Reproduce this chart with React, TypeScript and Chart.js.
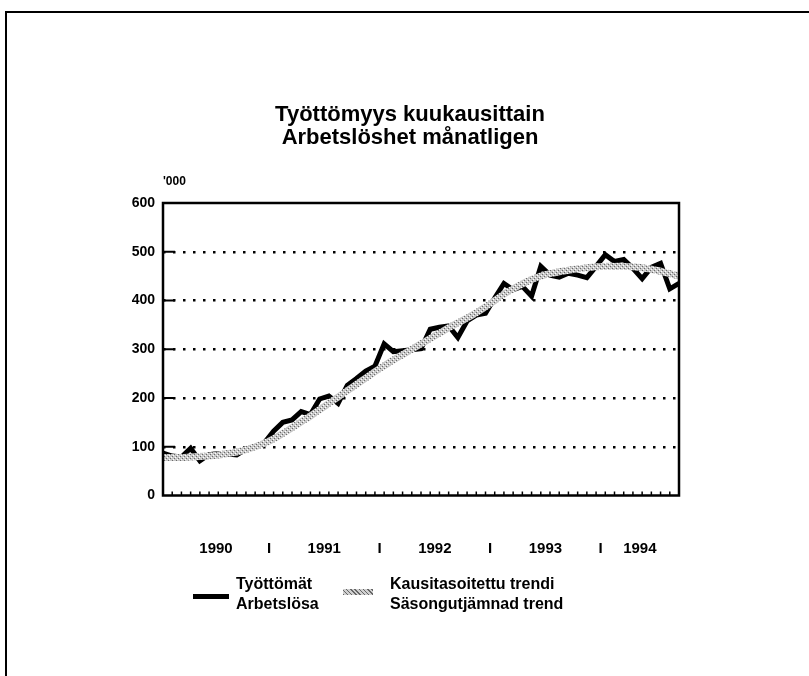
import React, { useEffect, useRef } from "react";
import { Chart, registerables } from "chart.js";

Chart.register(...registerables);

// Monthly data Jan 1990 – Sep 1994, thousands of persons
const years = ["1990", "1991", "1992", "1993", "1994"];
const separatorLabel = "I";
const yTicks = [0, 100, 200, 300, 400, 500, 600];

const unemployed = [
  87, 81, 79, 97, 71, 84, 86, 85, 83, 95, 100, 108,
  132, 150, 155, 172, 166, 198, 204, 189, 226, 240, 255, 265,
  311, 295, 297, 299, 301, 341, 345, 348, 324, 358, 370, 374,
  405, 435, 422, 429, 409, 470, 452, 448, 456, 452, 447, 470,
  494, 480, 484, 466, 445, 468, 476, 424, 435,
];

const trend = [
  78, 78, 78, 79, 80, 81, 83, 86, 89, 94, 100, 107,
  116, 127, 139, 151, 163, 176, 189, 202, 215, 228, 241, 254,
  266, 278, 289, 300, 311, 322, 333, 344, 354, 364, 375, 387,
  400, 413, 424, 434, 443, 450, 455, 459, 462, 465, 467, 469,
  470, 470, 470, 469, 467, 464, 460, 455, 450,
];

const seriesLabels = [
  ["Työttömät", "Arbetslösa"],
  ["Kausitasoitettu trendi", "Säsongutjämnad trend"],
];
const titleLines = ["Työttömyys kuukausittain", "Arbetslöshet månatligen"];
const unitLabel = "'000";

const FONT = '"Liberation Sans", Arial, Helvetica, sans-serif';

function makePattern(): CanvasPattern | string {
  const c = document.createElement("canvas");
  c.width = 4;
  c.height = 4;
  const g = c.getContext("2d");
  if (!g) return "#aaa";
  g.fillStyle = "#c8c8c8";
  g.fillRect(0, 0, 4, 4);
  g.fillStyle = "#6a6a6a";
  g.fillRect(0, 0, 1, 1);
  g.fillRect(2, 2, 1, 1);
  g.fillStyle = "#ffffff";
  g.fillRect(1, 3, 1, 1);
  g.fillRect(3, 1, 1, 1);
  const p = g.createPattern(c, "repeat");
  return p || "#aaa";
}

const framePlugin = {
  id: "framePlugin",
  afterDatasetsDraw(chart: any) {
    const { ctx, chartArea } = chart;
    const x = chart.scales.x;
    const y = chart.scales.y;
    ctx.save();
    ctx.strokeStyle = "#000";
    ctx.setLineDash([]);
    // month tick marks pointing inward
    ctx.lineWidth = 1.5;
    for (let i = 0; i < unemployed.length; i++) {
      const px = x.getPixelForValue(i);
      ctx.beginPath();
      ctx.moveTo(px, chartArea.bottom);
      ctx.lineTo(px, chartArea.bottom - 4);
      ctx.stroke();
    }
    // y inner ticks
    ctx.lineWidth = 2;
    yTicks.forEach((v) => {
      if (v === 0 || v === 600) return;
      const py = y.getPixelForValue(v);
      ctx.beginPath();
      ctx.moveTo(chartArea.left, py);
      ctx.lineTo(chartArea.left + 12, py);
      ctx.stroke();
    });
    // frame
    ctx.lineWidth = 2.5;
    ctx.strokeRect(
      chartArea.left,
      chartArea.top,
      chartArea.right - chartArea.left,
      chartArea.bottom - chartArea.top
    );
    ctx.restore();
  },
};

export default function App() {
  const ref = useRef<HTMLCanvasElement | null>(null);

  useEffect(() => {
    if (!ref.current) return;
    const pattern = makePattern();
    const xTickValues: number[] = [];
    const xTickText: string[] = [];
    const n = unemployed.length;
    years.forEach((yr, k) => {
      const start = k === 0 ? 0 : k * 12 - 0.5;
      const end = Math.min((k + 1) * 12 - 0.5, n - 1);
      xTickValues.push((start + end) / 2);
      xTickText.push(yr);
      if (k < years.length - 1) {
        xTickValues.push((k + 1) * 12 - 0.5);
        xTickText.push(separatorLabel);
      }
    });

    const chart = new Chart(ref.current, {
      type: "line",
      data: {
        datasets: [
          {
            label: seriesLabels[0].join(" "),
            data: unemployed.map((v, i) => ({ x: i, y: v })),
            borderColor: "#000",
            borderWidth: 5,
            borderJoinStyle: "miter",
            pointRadius: 0,
            tension: 0,
            order: 2,
          },
          {
            label: seriesLabels[1].join(" "),
            data: trend.map((v, i) => ({ x: i, y: v })),
            borderColor: pattern as any,
            borderWidth: 7,
            pointRadius: 0,
            tension: 0.3,
            order: 1,
          },
        ],
      },
      options: {
        responsive: false,
        animation: false,
        layout: { padding: { left: 0, right: 130, top: 203, bottom: 90 } },
        plugins: {
          legend: { display: false },
          tooltip: { enabled: false },
          title: { display: false },
        },
        scales: {
          x: {
            type: "linear",
            min: 0,
            max: n - 1,
            grid: { display: false },
            border: { display: false },
            afterFit(scale: any) {
              scale.height = 90.5;
            },
            afterBuildTicks(scale: any) {
              scale.ticks = xTickValues.map((v) => ({ value: v }));
            },
            ticks: {
              autoSkip: false,
              maxRotation: 0,
              padding: 36,
              color: "#000",
              font: { family: FONT, size: 15, weight: "bold" },
              callback: (_v: any, idx: number) => xTickText[idx],
            },
          },
          y: {
            min: 0,
            max: 600,
            afterFit(scale: any) {
              scale.width = 163;
            },
            afterBuildTicks(scale: any) {
              scale.ticks = yTicks.map((v) => ({ value: v }));
            },
            border: { display: false, dash: [2.5, 7.5] },
            grid: {
              drawTicks: false,
              lineWidth: 2.5,
              color: (c: any) =>
                c.tick && (c.tick.value === 0 || c.tick.value === 600)
                  ? "rgba(0,0,0,0)"
                  : "#000",
            },
            ticks: {
              padding: 8,
              color: "#000",
              font: { family: FONT, size: 14, weight: "bold" },
            },
          },
        },
      },
      plugins: [framePlugin],
    } as any);

    return () => chart.destroy();
  }, []);

  const text: React.CSSProperties = {
    position: "absolute",
    fontFamily: FONT,
    fontWeight: "bold",
    color: "#000",
    whiteSpace: "nowrap",
    margin: 0,
  };

  return (
    <div
      style={{
        position: "fixed",
        left: 0,
        top: 0,
        width: 809,
        height: 676,
        background: "#fff",
        overflow: "hidden",
      }}
    >
      <div style={{ position: "absolute", left: 5, top: 11, width: 804, height: 2, background: "#000" }} />
      <div style={{ position: "absolute", left: 5, top: 11, width: 2, height: 665, background: "#000" }} />
      <canvas ref={ref} width={809} height={676} style={{ position: "absolute", left: 0, top: 0 }} />
      <div
        style={{
          ...text,
          left: 410,
          top: 102,
          transform: "translateX(-50%)",
          fontSize: 22,
          lineHeight: "23px",
          textAlign: "center",
        }}
      >
        {titleLines.map((t) => (
          <div key={t}>{t}</div>
        ))}
      </div>
      <div style={{ ...text, left: 163, top: 174, fontSize: 12 }}>{unitLabel}</div>
      <div style={{ position: "absolute", left: 193, top: 594, width: 36, height: 5, background: "#000" }} />
      <div style={{ ...text, left: 236, top: 574, fontSize: 16, lineHeight: "20px" }}>
        {seriesLabels[0].map((t) => (
          <div key={t}>{t}</div>
        ))}
      </div>
      <div
        style={{
          position: "absolute",
          left: 343,
          top: 589,
          width: 30,
          height: 6,
          background:
            "repeating-linear-gradient(45deg, #666 0px, #666 1px, #d0d0d0 1px, #d0d0d0 3px)",
        }}
      />
      <div style={{ ...text, left: 390, top: 574, fontSize: 16, lineHeight: "20px" }}>
        {seriesLabels[1].map((t) => (
          <div key={t}>{t}</div>
        ))}
      </div>
    </div>
  );
}
